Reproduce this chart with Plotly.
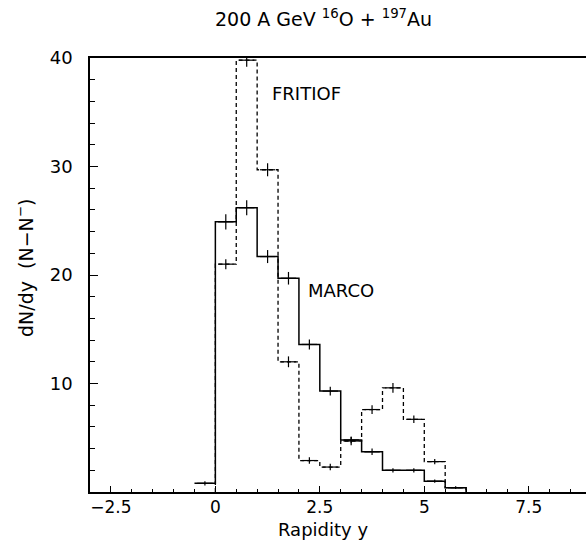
import plotly.graph_objects as go

# ---- data ----
bin_edges_marco = [-0.5, 0.0, 0.5, 1.0, 1.5, 2.0, 2.5, 3.0, 3.5, 4.0, 4.5, 5.0, 5.5, 6.0]
marco_values = [0.8, 24.9, 26.2, 21.7, 19.7, 13.6, 9.3, 4.8, 3.7, 2.0, 2.0, 1.0, 0.4]
marco_errors = [0.2, 0.7, 0.7, 0.6, 0.58, 0.46, 0.4, 0.3, 0.3, 0.2, 0.2, 0.15, 0.1]

bin_edges_fritiof = [0.0, 0.5, 1.0, 1.5, 2.0, 2.5, 3.0, 3.5, 4.0, 4.5, 5.0, 5.5, 6.0]
fritiof_values = [21.0, 39.8, 29.7, 12.0, 2.9, 2.3, 4.7, 7.6, 9.6, 6.7, 2.8, 0.4]
fritiof_errors = [0.46, 0.6, 0.6, 0.5, 0.3, 0.3, 0.4, 0.4, 0.45, 0.35, 0.25, 0.1]

x_tickvals = [-2.5, 0, 2.5, 5, 7.5]
x_ticktext = ["\u22122.5", "0", "2.5", "5", "7.5"]
y_tickvals = [10, 20, 30, 40]
y_ticktext = ["10", "20", "30", "40"]

FONT = "DejaVu Sans"


def step_xy(edges, values, start_from_zero):
    xs = list(edges)
    ys = list(values) + [0]
    if start_from_zero:
        xs = [edges[0]] + xs
        ys = [0] + ys
    return xs, ys


def centers(edges):
    return [(a + b) / 2 for a, b in zip(edges[:-1], edges[1:])]


fig = go.Figure()

mx, my = step_xy(bin_edges_marco, marco_values, False)
fig.add_trace(go.Scatter(x=mx, y=my, mode="lines", line_shape="hv",
                         line=dict(color="black", width=1.5), showlegend=False,
                         hoverinfo="skip"))
fx, fy = step_xy(bin_edges_fritiof, fritiof_values, True)
fig.add_trace(go.Scatter(x=fx, y=fy, mode="lines", line_shape="hv",
                         line=dict(color="black", width=1.3, dash="4px,3px"),
                         showlegend=False, hoverinfo="skip"))

for edges, vals, errs in [(bin_edges_marco, marco_values, marco_errors),
                          (bin_edges_fritiof, fritiof_values, fritiof_errors)]:
    fig.add_trace(go.Scatter(
        x=centers(edges), y=vals, mode="markers",
        marker=dict(symbol="line-ew", size=11, line=dict(color="black", width=1.2)),
        error_y=dict(type="data", array=errs, visible=True, width=0,
                     thickness=1.2, color="black"),
        showlegend=False, hoverinfo="skip"))

fig.add_annotation(x=2.19, y=36.7, xref="x", yref="y", text="FRITIOF",
                   showarrow=False, font=dict(family=FONT, size=18, color="black"))
fig.add_annotation(x=3.0, y=18.6, xref="x", yref="y", text="MARCO",
                   showarrow=False, font=dict(family=FONT, size=18, color="black"))

PL, PT, PB = 90, 58, 492
PW, PH = 586 - PL, PB - PT


def px(xp):
    return (xp - PL) / PW


def py(yp):
    return (PB - yp) / PH


# title
fig.add_annotation(x=px(323), y=py(18), xref="paper", yref="paper",
                   xanchor="center", yanchor="middle",
                   text="200 A GeV <sup>16</sup>O + <sup>197</sup>Au", showarrow=False,
                   font=dict(family=FONT, size=19, color="black"))
# y title
fig.add_annotation(x=px(25), y=py(268), xref="paper", yref="paper",
                   xanchor="center", yanchor="middle",
                   text="dN/dy  (N\u2212N<sup>\u2212</sup>)", showarrow=False, textangle=-90,
                   font=dict(family=FONT, size=19, color="black"))
# x title
fig.add_annotation(x=px(323), y=py(529), xref="paper", yref="paper",
                   xanchor="center", yanchor="middle",
                   text="Rapidity y", showarrow=False,
                   font=dict(family=FONT, size=18, color="black"))

fig.update_xaxes(range=[-3, 8.87], showline=True, linecolor="black", linewidth=1.5,
                 mirror=True, ticks="inside", ticklen=6, tickwidth=1, tickcolor="black",
                 tickvals=x_tickvals, ticktext=x_ticktext, showgrid=False, zeroline=False,
                 ticklabelstandoff=-1,
                 tickfont=dict(family=FONT, size=17, color="black"),
                 minor=dict(dtick=0.5, tick0=0, ticks="inside", ticklen=3, tickcolor="black",
                            tickwidth=1, showgrid=False))
fig.update_yaxes(range=[0, 40], showline=True, linecolor="black", linewidth=1.5,
                 mirror=False, ticks="inside", ticklen=8, tickwidth=1, tickcolor="black",
                 tickvals=y_tickvals, ticktext=y_ticktext, showgrid=False, zeroline=False,
                 ticklabelstandoff=12,
                 tickfont=dict(family=FONT, size=18, color="black"),
                 minor=dict(dtick=2, tick0=0, ticks="inside", ticklen=5, tickcolor="black",
                            tickwidth=1, showgrid=False))

fig.update_layout(width=586, height=540, margin=dict(l=PL, r=0, t=PT, b=540 - PB),
                  plot_bgcolor="white", paper_bgcolor="white", showlegend=False,
                  font=dict(family=FONT, color="black"))

fig.write_html("out.html")
